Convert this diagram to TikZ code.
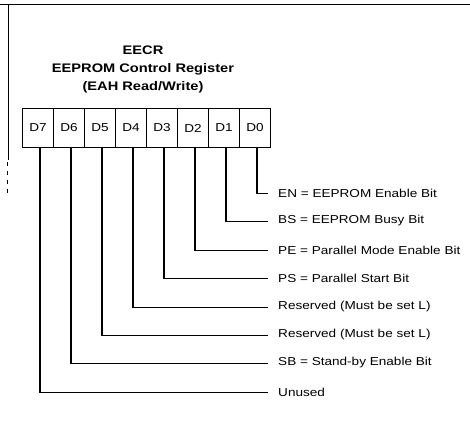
\documentclass[tikz,border=0pt]{standalone}
\usepackage{fontspec}
\setmainfont[FakeStretch=1.18]{Liberation Sans}
\usetikzlibrary{calc}
\begin{document}
\begin{tikzpicture}[x=1pt,y=-1pt,
  bitbox/.style={draw,line width=1pt,minimum width=31pt,minimum height=39pt,inner sep=0pt,anchor=north west,font=\fontsize{11.5}{13}\selectfont},
  lead/.style={line width=1.3pt},
  desc/.style={anchor=west,inner sep=0pt,font=\fontsize{11.5}{13}\selectfont},
  ttl/.style={font=\bfseries\fontsize{12.4}{14}\selectfont,inner sep=0pt}]
\useasboundingbox (0,0) rectangle (470,441);
% frame
\draw[line width=1pt] (0,5) -- (470,5);
\draw[line width=1pt] (8,5) -- (8,160);
\draw[line width=0.6pt,dash pattern=on 4pt off 5pt] (7,162) -- (7,196);
% title
\node[ttl] (t1) at (143,50) {EECR};
\node[ttl] (t2) at (143,69) {EEPROM Control Register};
\node[ttl] (t3) at (143,87.5) {(EAH Read/Write)};
% register
\node[bitbox] (d7) at (22,108) {D7};
\node[bitbox] (d6) at (53,108) {D6};
\node[bitbox] (d5) at (84,108) {D5};
\node[bitbox] (d4) at (115,108) {D4};
\node[bitbox] (d3) at (146,108) {D3};
\node[bitbox] (d2) at (177,108) {D2};
\node[bitbox] (d1) at (208,108) {D1};
\node[bitbox] (d0) at (239,108) {D0};
% labels
\node[desc] (l0) at (278,193) {EN = EEPROM Enable Bit};
\node[desc] (l1) at (278,221) {BS = EEPROM Busy Bit};
\node[desc] (l2) at (278,250) {PE = Parallel Mode Enable Bit};
\node[desc] (l3) at (278,278) {PS = Parallel Start Bit};
\node[desc] (l4) at (278,307) {Reserved (Must be set L)};
\node[desc] (l5) at (278,335) {Reserved (Must be set L)};
\node[desc] (l6) at (278,363) {SB = Stand-by Enable Bit};
\node[desc] (l7) at (278,392) {Unused};
% leads
\foreach \b/\l in {d0/l0,d1/l1,d2/l2,d3/l3,d4/l4,d5/l5,d6/l6,d7/l7}{
  \draw[lead] ($(\b.south)+(2,0)$) |- ($(\l.west)+(-10,0.5)$);
}
\end{tikzpicture}
\end{document}
